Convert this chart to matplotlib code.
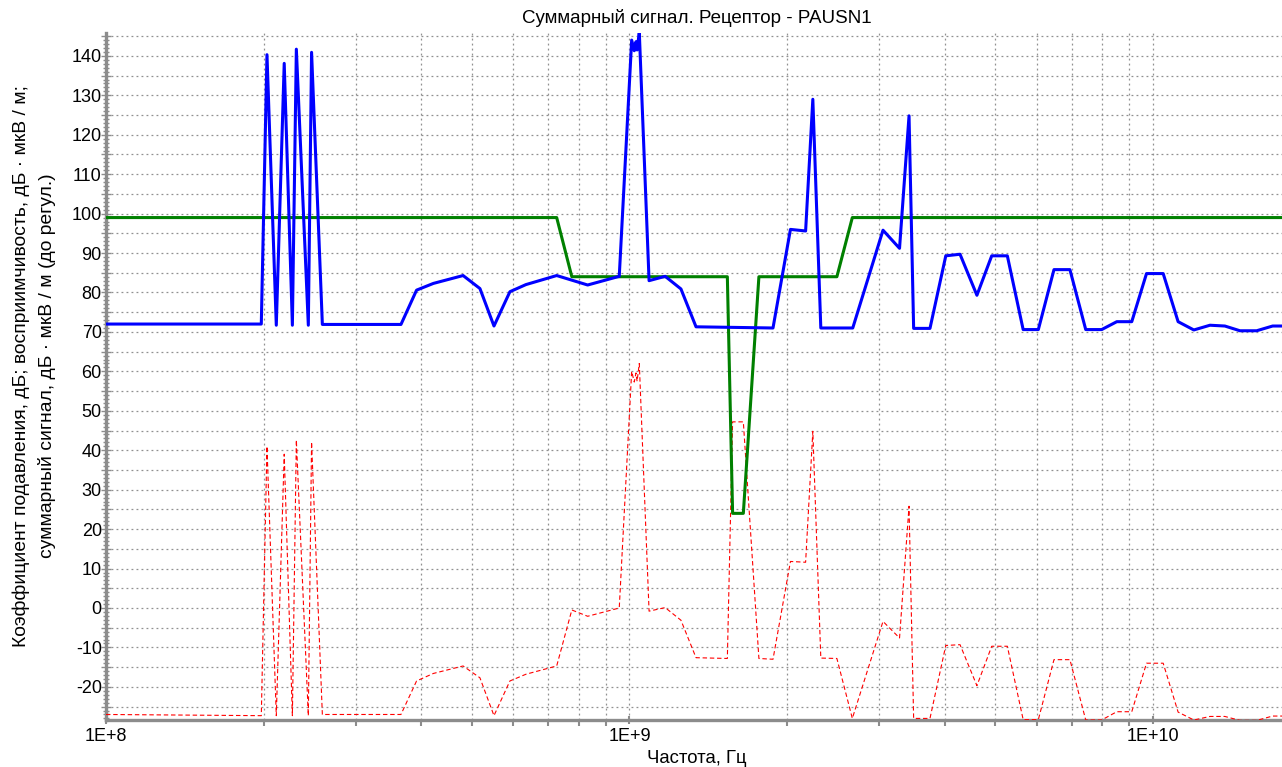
import numpy as np
import matplotlib
matplotlib.use("Agg")
import matplotlib.pyplot as plt
from matplotlib.ticker import MultipleLocator, FuncFormatter, LogLocator

plt.rcParams["font.family"] = ["Liberation Sans", "DejaVu Sans"]

# susceptibility (blue), dB uV/m
blue_f = [1.0e8, 1.98e8, 2.03e8, 2.115e8, 2.19e8, 2.27e8, 2.31e8, 2.435e8, 2.47e8, 2.59e8,
          3.66e8, 3.92e8, 4.22e8, 4.81e8, 5.18e8, 5.51e8, 5.91e8, 6.34e8, 7.26e8, 8.32e8,
          9.56e8, 1.0097e9, 1.0213e9, 1.029e9, 1.034e9, 1.0441e9, 1.09e9, 1.17e9, 1.254e9,
          1.34e9, 1.88e9, 2.03e9, 2.17e9, 2.24e9, 2.32e9, 2.67e9, 3.05e9, 3.28e9, 3.42e9,
          3.49e9, 3.75e9, 4.02e9, 4.28e9, 4.61e9, 4.92e9, 5.27e9, 5.65e9, 6.04e9, 6.47e9,
          6.94e9, 7.44e9, 7.98e9, 8.53e9, 9.11e9, 9.72e9, 1.046e10, 1.117e10, 1.197e10,
          1.285e10, 1.372e10, 1.466e10, 1.578e10, 1.693e10, 1.764e10]
blue_v = [72.0, 72.0, 140.3, 71.7, 138.1, 71.7, 141.7, 71.7, 140.9, 71.9,
          71.9, 80.6, 82.3, 84.3, 81.0, 71.5, 80.2, 82.0, 84.3, 81.9,
          84.1, 144.0, 141.3, 143.6, 141.5, 146.0, 83.0, 84.1, 80.9,
          71.3, 71.0, 96.0, 95.6, 129.0, 71.0, 71.0, 95.8, 91.2, 124.8,
          70.9, 70.9, 89.3, 89.7, 79.3, 89.3, 89.3, 70.6, 70.6, 85.8,
          85.8, 70.6, 70.6, 72.6, 72.6, 84.8, 84.8, 72.6, 70.5,
          71.7, 71.5, 70.3, 70.3, 71.5, 71.5]

# total signal before regulation (green)
green_f = [1.0e8, 7.26e8, 7.76e8, 1.538e9, 1.574e9, 1.65e9, 1.767e9, 2.49e9, 2.665e9, 1.764e10]
green_v = [99, 99, 84, 84, 24, 24, 84, 84, 99, 99]

# suppression coefficient (red, dashed)
red_f = [1.0e8, 1.98e8, 2.03e8, 2.115e8, 2.19e8, 2.27e8, 2.31e8, 2.435e8, 2.47e8, 2.59e8,
         3.66e8, 3.92e8, 4.22e8, 4.81e8, 5.18e8, 5.51e8, 5.91e8, 6.34e8, 7.26e8, 7.76e8,
         8.32e8, 9.56e8, 1.0097e9, 1.0213e9, 1.029e9, 1.034e9, 1.0441e9, 1.09e9, 1.17e9,
         1.254e9, 1.34e9, 1.538e9, 1.574e9, 1.65e9, 1.767e9, 1.88e9, 2.03e9, 2.17e9, 2.24e9,
         2.32e9, 2.49e9, 2.665e9, 3.05e9, 3.28e9, 3.42e9, 3.49e9, 3.75e9, 4.02e9, 4.28e9,
         4.61e9, 4.92e9, 5.27e9, 5.65e9, 6.04e9, 6.47e9, 6.94e9, 7.44e9, 7.98e9, 8.53e9,
         9.11e9, 9.72e9, 1.046e10, 1.117e10, 1.197e10, 1.285e10, 1.372e10, 1.466e10,
         1.578e10, 1.693e10, 1.764e10]
red_v = [-27.0, -27.3, 41.0, -27.3, 39.0, -27.3, 42.6, -27.3, 42.1, -27.0,
         -27.0, -18.5, -16.6, -14.7, -17.7, -27.3, -18.5, -16.8, -14.7, -0.5,
         -2.1, 0.0, 60.0, 57.3, 59.6, 57.5, 62.0, -0.8, 0.1,
         -3.1, -12.6, -12.8, 47.2, 47.2, -12.8, -13.0, 11.8, 11.6, 44.8,
         -12.7, -12.8, -28.0, -3.4, -7.6, 25.8, -28.0, -28.0, -9.5, -9.3,
         -19.7, -9.7, -9.7, -28.3, -28.3, -13.1, -13.1, -28.4, -28.4, -26.3,
         -26.3, -14.0, -14.0, -26.4, -28.4, -27.5, -27.5, -28.5,
         -28.5, -27.4, -27.4]

fig = plt.figure(figsize=(12.82, 7.67), dpi=100)
ax = fig.add_axes([106 / 1282, 47 / 767, 1 - 106 / 1282, 687 / 767])

ax.plot(red_f, red_v, color="#ff0000", lw=0.8, ls=(0, (4, 2.5)), zorder=3)
ax.plot(green_f, green_v, color="#008000", lw=2.2, zorder=4)
ax.plot(blue_f, blue_v, color="#0000ff", lw=2.2, zorder=5)

ax.set_xscale("log")
ax.set_xlim(1e8, 1.764e10)
ax.set_ylim(-28.4, 145.8)

ax.xaxis.set_major_locator(LogLocator(base=10, numticks=10))
ax.xaxis.set_minor_locator(LogLocator(base=10, subs=np.arange(2, 10), numticks=100))
ax.xaxis.set_major_formatter(FuncFormatter(lambda v, p: "1E+%d" % round(np.log10(v))))
ax.xaxis.set_minor_formatter(FuncFormatter(lambda v, p: ""))

ax.yaxis.set_major_locator(MultipleLocator(5))
ax.yaxis.set_minor_locator(MultipleLocator(1))
ax.yaxis.set_major_formatter(FuncFormatter(lambda v, p: "%d" % v if round(v) % 10 == 0 else ""))

ax.grid(True, which="major", axis="y", color="#909090", ls=(0, (1.5, 2.5)), lw=0.9)
ax.grid(True, which="both", axis="x", color="#909090", ls=(0, (1.5, 2.5)), lw=0.9)

for s in ("top", "right"):
    ax.spines[s].set_visible(False)
for s in ("left", "bottom"):
    ax.spines[s].set_color("#8c8c8c")
    ax.spines[s].set_linewidth(2.4)

ax.tick_params(axis="y", which="both", direction="inout", color="#8c8c8c", width=1,
               labelsize=13, pad=-0.5)
ax.tick_params(axis="y", which="major", length=7)
ax.tick_params(axis="y", which="minor", length=5)
ax.tick_params(axis="x", which="both", direction="out", color="#8c8c8c", width=1.5,
               labelsize=13, pad=3)
ax.tick_params(axis="x", which="major", length=6, direction="inout")
ax.tick_params(axis="x", which="minor", length=4)

fig.text(697 / 1282, 1 - 18 / 767, "Суммарный сигнал. Рецептор - PAUSN1",
         ha="center", va="center", fontsize=13.5)
fig.text(697 / 1282, 1 - 758.5 / 767, "Частота, Гц", ha="center", va="center", fontsize=13.3)
fig.text(34 / 1282, 1 - 366 / 767,
         "Коэффициент подавления, дБ; восприимчивость, дБ · мкВ / м;\n"
         "суммарный сигнал, дБ · мкВ / м (до регул.)",
         rotation=90, ha="center", va="center", multialignment="center",
         fontsize=13.9, linespacing=1.55)

fig.savefig("out.png", dpi=100)
